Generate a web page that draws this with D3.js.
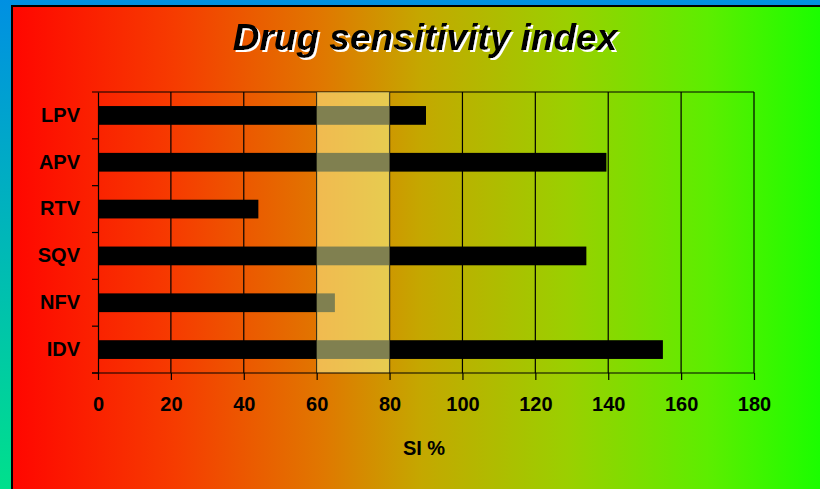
<!DOCTYPE html>
<html lang="en">
<head>
    <meta charset="utf-8"/>
    <title>Drug sensitivity index</title>
    <style>
        body { margin: 0; overflow: hidden; }
        .axis text { font: bold 20px "Liberation Sans", Arial, sans-serif; fill: #000; }
        .axis path, .axis line { fill: none; stroke: #000; stroke-width: 1.2; }
    </style>
</head>
<body>
<div id="graph"></div>
<script src="https://d3js.org/d3.v7.min.js"></script>
<script>
    var drugs = ["LPV", "APV", "RTV", "SQV", "NFV", "IDV"];
    var si = [90, 139.5, 44, 134, 65, 155];
    var xTicks = [0, 20, 40, 60, 80, 100, 120, 140, 160, 180];
    var band = [60, 80];

    var W = 820, H = 489;
    var margin = { top: 92, right: 66, bottom: 116, left: 98 },
        width = W - margin.left - margin.right,
        height = H - margin.top - margin.bottom;

    var svg = d3.select("#graph").append("svg")
        .attr("width", W).attr("height", H);

    var defs = svg.append("defs");
    var outer = defs.append("linearGradient").attr("id", "outer")
        .attr("x1", 0).attr("y1", 0).attr("x2", 0).attr("y2", 1);
    outer.append("stop").attr("offset", "0%").attr("stop-color", "#0090e2");
    outer.append("stop").attr("offset", "100%").attr("stop-color", "#00e08c");

    var inner = defs.append("linearGradient").attr("id", "inner")
        .attr("x1", 0).attr("y1", 0).attr("x2", 1).attr("y2", 0);
    [["0%", "#ff0600"], ["20%", "#f63c00"], ["38%", "#e07800"], ["50%", "#c4a800"],
     ["68%", "#9ad000"], ["85%", "#5cee00"], ["100%", "#14ff00"]].forEach(function (s) {
        inner.append("stop").attr("offset", s[0]).attr("stop-color", s[1]);
    });

    // white drop shadow for the title
    var shadow = defs.append("filter").attr("id", "shadow")
        .attr("x", "-10%").attr("y", "-30%").attr("width", "120%").attr("height", "160%");
    shadow.append("feOffset").attr("in", "SourceAlpha").attr("dx", 2).attr("dy", 2).attr("result", "off");
    shadow.append("feFlood").attr("flood-color", "#fff").attr("result", "white");
    shadow.append("feComposite").attr("in", "white").attr("in2", "off").attr("operator", "in").attr("result", "sh");
    var merge = shadow.append("feMerge");
    merge.append("feMergeNode").attr("in", "sh");
    merge.append("feMergeNode").attr("in", "SourceGraphic");

    svg.append("rect").attr("width", W).attr("height", H).attr("fill", "url(#outer)");
    svg.append("rect").attr("x", 12).attr("y", 6).attr("width", W).attr("height", H)
        .attr("fill", "url(#inner)").attr("stroke", "#000").attr("stroke-width", 2);

    svg.append("text").attr("x", 425).attr("y", 50)
        .attr("text-anchor", "middle")
        .attr("filter", "url(#shadow)")
        .style("font", "italic bold 37px 'Liberation Sans', Arial, sans-serif")
        .attr("fill", "#000").text("Drug sensitivity index");

    var g = svg.append("g")
        .attr("transform", "translate(" + margin.left + "," + margin.top + ")");

    var x = d3.scaleLinear().domain([0, 180]).range([0, width]);
    var y = d3.scaleBand().domain(drugs).range([0, height]).paddingInner(0.6).paddingOuter(0.3);
    var yb = d3.scaleBand().domain(drugs).range([0, height]);

    // grid lines
    g.selectAll(".grid").data(xTicks.slice(1)).enter().append("line")
        .attr("x1", function (d) { return x(d); }).attr("x2", function (d) { return x(d); })
        .attr("y1", 0).attr("y2", height)
        .attr("stroke", "#000").attr("stroke-width", 1.2);
    g.append("line").attr("x1", -6).attr("x2", width).attr("y1", 0).attr("y2", 0)
        .attr("stroke", "#000").attr("stroke-width", 1.2);

    // bars
    g.selectAll(".bar").data(drugs).enter().append("rect")
        .attr("x", 0)
        .attr("y", function (d) { return y(d); })
        .attr("width", function (d, i) { return x(si[i]); })
        .attr("height", y.bandwidth())
        .attr("fill", "#000");

    // translucent band
    g.append("rect")
        .attr("x", x(band[0])).attr("y", 0)
        .attr("width", x(band[1]) - x(band[0])).attr("height", height)
        .attr("fill", "#ffffa0").attr("opacity", 0.5);

    // axes
    var xAxis = g.append("g").attr("class", "axis")
        .attr("transform", "translate(0," + height + ")")
        .call(d3.axisBottom(x).tickValues(xTicks).tickSize(7).tickSizeOuter(0).tickPadding(17));
    xAxis.select(".domain").remove();
    xAxis.append("line").attr("x1", -6).attr("x2", width).attr("stroke", "#000").attr("stroke-width", 1.2);

    var yAxis = g.append("g").attr("class", "axis")
        .call(d3.axisLeft(yb).tickSize(0).tickPadding(18));
    yAxis.selectAll(".tick").append("line")
        .attr("x1", -6).attr("x2", 0)
        .attr("y1", yb.bandwidth() / 2).attr("y2", yb.bandwidth() / 2)
        .attr("stroke", "#000").attr("stroke-width", 1.2);

    g.append("text").attr("class", "axis")
        .attr("x", x(90) - 2).attr("y", height + 82)
        .attr("text-anchor", "middle")
        .style("font", "bold 20px 'Liberation Sans', Arial, sans-serif")
        .text("SI %");
</script>
</body>
</html>
